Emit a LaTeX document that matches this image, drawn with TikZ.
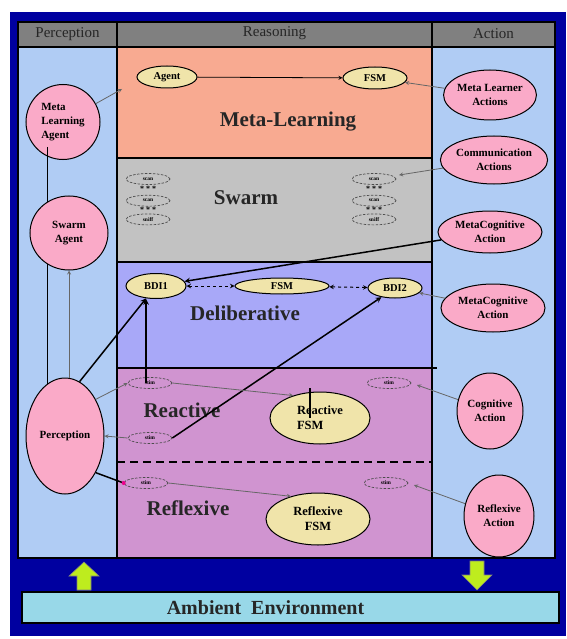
\documentclass[tikz,border=0pt]{standalone}
\usepackage{fontspec}
\setmainfont{Liberation Serif}
\usepackage{xcolor}
\usepackage{tikz}
\usetikzlibrary{arrows.meta, positioning, shapes.geometric, arrows}
\definecolor{bgblue}{RGB}{0,0,160}
\definecolor{hdrgray}{RGB}{128,128,128}
\definecolor{colblue}{RGB}{176,204,244}
\definecolor{metasalmon}{RGB}{248,170,145}
\definecolor{swarmgray}{RGB}{194,194,194}
\definecolor{delibblue}{RGB}{168,168,248}
\definecolor{reactpink}{RGB}{208,148,208}
\definecolor{agentpink}{RGB}{250,170,200}
\definecolor{fsmyellow}{RGB}{240,228,170}
\definecolor{envcyan}{RGB}{152,216,232}
\definecolor{arrowgreen}{RGB}{190,236,30}
\tikzstyle{pinknode} = [ellipse, draw=black, line width=1pt, fill=agentpink, inner sep=0pt, align=center, font=\fontsize{11}{14}\selectfont\bfseries]
\tikzstyle{fsmnode} = [ellipse, draw=black, line width=1pt, fill=fsmyellow, inner sep=0pt, align=center, font=\fontsize{10.5}{13}\selectfont\bfseries]
\tikzstyle{sensor} = [ellipse, draw=black!70, dash pattern=on 2.5pt off 1.5pt, line width=0.7pt, minimum width=44pt, minimum height=11pt, inner sep=0pt, font=\fontsize{5.5}{6}\selectfont\bfseries]
\tikzstyle{stars} = [inner sep=0pt, font=\fontsize{8}{8}\selectfont\bfseries]
\tikzstyle{bandlabel} = [font=\fontsize{21}{24}\selectfont\bfseries, text=black!85]
\tikzstyle{header} = [font=\fontsize{15}{16}\selectfont, text=black!85]
\tikzstyle{panelbox} = [draw=black, line width=1.2pt]
\tikzstyle{greenarrow} = [fill=arrowgreen, draw=black!50, line width=0.6pt]
\tikzstyle{arrow} = [line width=0.8pt,->,>=stealth]
\tikzstyle{boldarrow} = [line width=1.5pt,->,>=stealth]
\tikzstyle{grayarrow} = [draw=black!60, line width=0.8pt,->,>=stealth]
\tikzstyle{dasharrow} = [line width=1pt, dashed, <->, >=stealth]

\begin{document}
\begin{tikzpicture}[x=1pt, y=-1pt]
\useasboundingbox (0,0) rectangle (566,639);
\fill[bgblue] (10,12) rectangle (566,636);

% Columns and bands
\draw[panelbox, fill=hdrgray] (18,22) rectangle (117,47);
\draw[panelbox, fill=hdrgray] (117,22) rectangle (432,47);
\draw[panelbox, fill=hdrgray] (432,22) rectangle (555,47);
\draw[panelbox, fill=colblue] (18,47) rectangle (117,558);
\draw[panelbox, fill=colblue] (432,47) rectangle (555,558);
\draw[panelbox, fill=metasalmon] (117,47) rectangle (432,158);
\draw[panelbox, fill=swarmgray] (117,158) rectangle (432,262);
\draw[panelbox, fill=delibblue] (117,262) rectangle (432,368);
\draw[panelbox, fill=reactpink] (117,368) rectangle (432,558);
\draw[panelbox] (432,368) -- (437,368);
\draw[line width=1.5pt, dash pattern=on 8pt off 5pt] (117,462) -- (432,462);

\node (hPer) [header] at (67.5,34.5) {Perception};
\node (hReas) [header] at (274.5,33.5) {Reasoning};
\node (hAct) [header] at (493.5,34) {Action};

% Band titles
\node (mlLabel) [bandlabel] at (288,122) {Meta-Learning};
\node (swLabel) [bandlabel] at (246,198) {Swarm};
\node (dlLabel) [bandlabel] at (245,313) {Deliberative};
\node (rcLabel) [bandlabel] at (182,410) {Reactive};
\node (rfLabel) [bandlabel] at (188,508) {Reflexive};

% Perception side
\node (mlagent) [pinknode, align=left, minimum width=74pt, minimum height=75pt] at (63,122) {Meta\\Learning\\Agent};
\coordinate (mlTail) at (47,147);
\coordinate (percTop) at (47,385);
\draw[line width=0.9pt] (mlTail) -- (percTop);
\node (swarmagent) [pinknode, minimum width=78pt, minimum height=74pt] at (69,233) {Swarm\\Agent};
\node (perception) [pinknode, minimum width=78pt, minimum height=116pt] at (65,436) {Perception};

% Action side
\node (mlactions) [pinknode, minimum width=92pt, minimum height=50pt] at (490,95) {Meta Learner\\Actions};
\node (commact) [pinknode, minimum width=102pt, minimum height=48pt] at (494,160) {Communication\\Actions};
\node (metacogA) [pinknode, minimum width=104pt, minimum height=42pt] at (490,232) {MetaCognitive\\Action};
\node (metacogB) [pinknode, minimum width=104pt, minimum height=48pt] at (493,308) {MetaCognitive\\Action};
\node (cogact) [pinknode, minimum width=66pt, minimum height=76pt] at (490,411) {Cognitive\\Action};
\node (reflact) [pinknode, minimum width=70pt, minimum height=82pt] at (499,516) {Reflexive\\Action};

% Reasoning nodes
\node (agentML) [fsmnode, minimum width=60pt, minimum height=22pt] at (167,77) {Agent};
\node (fsmML) [fsmnode, minimum width=64pt, minimum height=22pt] at (375,78) {FSM};
\node (bdi1) [fsmnode, minimum width=60pt, minimum height=25pt] at (156,286) {BDI1};
\node (fsmD) [fsmnode, minimum width=94pt, minimum height=16pt] at (282,286) {FSM};
\node (bdi2) [fsmnode, minimum width=54pt, minimum height=20pt] at (395,288) {BDI2};
\node (reactfsm) [fsmnode, align=left, minimum width=100pt, minimum height=52pt, font=\fontsize{12.5}{15}\selectfont\bfseries] at (320,418) {Reactive\\FSM};
\node (reflfsm) [fsmnode, minimum width=104pt, minimum height=52pt, font=\fontsize{12.5}{15}\selectfont\bfseries] at (318,519) {Reflexive\\FSM};

% Sensors
\node (swL1) [sensor] at (148,179) {scan};
\node (swL2) [sensor, below=10pt of swL1] {scan};
\node (swL3) [sensor, below=7pt of swL2] {sniff};
\node (stL1) [stars, below=1pt of swL1] {* * *};
\node (stL2) [stars, below=0.5pt of swL2] {* * *};
\node (swR1) [sensor] at (374,179) {scan};
\node (swR2) [sensor, below=10pt of swR1] {scan};
\node (swR3) [sensor, below=7pt of swR2] {sniff};
\node (stR1) [stars, below=1pt of swR1] {* * *};
\node (stR2) [stars, below=0.5pt of swR2] {* * *};
\node (rTL) [sensor] at (150,383) {stim};
\node (rR) [sensor] at (389,383) {stim};
\node (rBL) [sensor] at (150,438) {stim};
\node (fL) [sensor] at (146,483) {stim};
\node (fR) [sensor] at (386,483) {stim};

% Paths
\coordinate (mlTip) at (122,89);
\draw [grayarrow] (mlagent) -- (mlTip);
\draw [arrow] (agentML) -- (fsmML);
\draw [grayarrow] (mlactions) -- (fsmML);
\draw [grayarrow, shorten >=6pt] (commact) -- (swR1);
\draw [boldarrow] (metacogA) -- (bdi1);
\draw [grayarrow] (metacogB) -- (bdi2);
\draw [dasharrow] (bdi1) -- (fsmD);
\draw [dasharrow] (fsmD) -- (bdi2);
\draw [grayarrow] (perception.north -| swarmagent.south) -- (swarmagent.south);
\draw [boldarrow] (perception.75) -- (bdi1);
\draw [boldarrow] ([xshift=-4pt]rTL.center) -- ([xshift=-4pt]rTL.center |- bdi1.south);
\draw [boldarrow] (rBL.east) -- (bdi2);
\draw [grayarrow] (perception.50) -- (rTL.west);
\draw [grayarrow] (rBL.west) -- (perception.east);
\draw [line width=1.5pt] (perception.-50) -- (fL.west);
\fill[magenta] (fL.west) circle (2pt);
\draw [grayarrow] (rTL.east) -- (reactfsm.140);
\draw [line width=1.2pt] ([xshift=-10pt,yshift=30pt]reactfsm.center) -- ([xshift=-10pt]reactfsm.center);
\draw [grayarrow] (fL.east) -- (reflfsm.140);
\draw [grayarrow, shorten >=6pt] (cogact) -- (rR.east);
\draw [grayarrow, shorten >=6pt] (reflact) -- (fR.east);

% Environment
\filldraw[greenarrow] (77,590) -- (77,576) -- (69,576) -- (84,562) -- (99,576) -- (91,576) -- (91,590) -- cycle;
\filldraw[greenarrow] (470,561) -- (484,561) -- (484,575) -- (492,575) -- (477,590) -- (462,575) -- (470,575) -- cycle;
\node (env) [draw=black, line width=1.2pt, fill=envcyan, minimum width=537pt, minimum height=31pt, inner sep=0pt] at (290.5,607.5) {};
\node (envText) [font=\fontsize{20}{22}\selectfont\bfseries, text=black!85] at ([xshift=-25pt]env.center) {Ambient\ \ Environment};
\end{tikzpicture}
\end{document}
